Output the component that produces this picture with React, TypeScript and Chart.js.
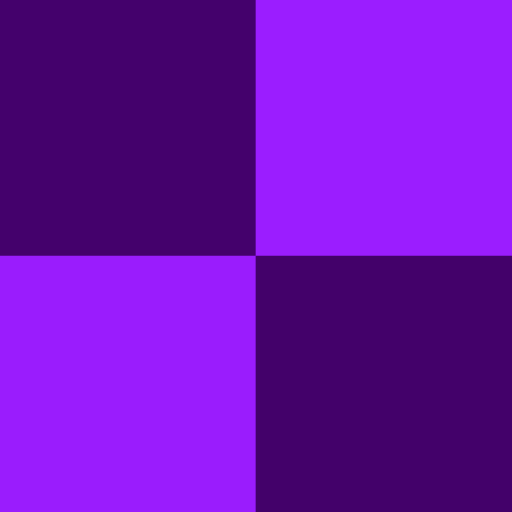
import React, { useEffect, useRef } from "react";
import { Chart, registerables } from "chart.js";

Chart.register(...registerables);

// 2x2 block matrix: columns (x categories), rows stacked bottom -> top
const columns = ["A", "B"];
const bottomRowValues = [1, 1];
const topRowValues = [1, 1];
const bottomRowColors = ["#9a1cfd", "#43016a"];
const topRowColors = ["#44016c", "#9b1dff"];

export default function App() {
  const ref = useRef<HTMLCanvasElement | null>(null);
  useEffect(() => {
    if (!ref.current) return;
    const chart = new Chart(ref.current, {
      type: "bar",
      data: {
        labels: columns,
        datasets: [
          {
            label: "bottom",
            data: bottomRowValues,
            backgroundColor: bottomRowColors,
            borderWidth: 0,
            categoryPercentage: 1,
            barPercentage: 1,
          },
          {
            label: "top",
            data: topRowValues,
            backgroundColor: topRowColors,
            borderWidth: 0,
            categoryPercentage: 1,
            barPercentage: 1,
          },
        ],
      },
      options: {
        responsive: false,
        animation: false,
        layout: { padding: 0 },
        plugins: { legend: { display: false }, tooltip: { enabled: false } },
        scales: {
          x: { stacked: true, display: false, offset: true },
          y: { stacked: true, display: false, min: 0, max: 2 },
        },
      },
    });
    return () => chart.destroy();
  }, []);
  return (
    <div style={{ position: "fixed", left: 0, top: 0, width: 512, height: 512, background: "#6f0eb5" }}>
      <canvas ref={ref} width={512} height={512} style={{ display: "block", width: 512, height: 512 }} />
    </div>
  );
}
